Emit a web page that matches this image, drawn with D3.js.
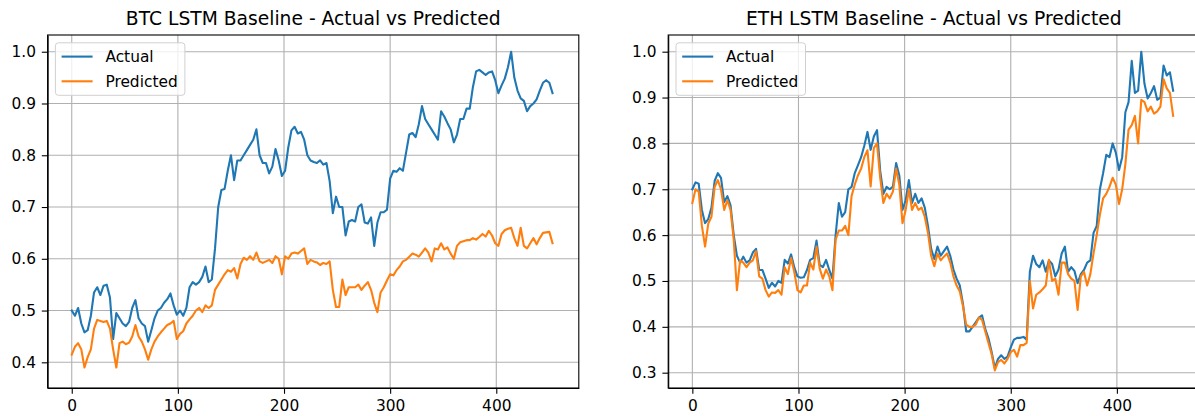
<!DOCTYPE html>
<html>
<head>
<meta charset="utf-8">
<script src="https://cdn.jsdelivr.net/npm/d3@7"></script>
<style>
  body { margin: 0; background: #fff; }
  svg { display: block; }
  text { font-family: "DejaVu Sans", sans-serif; }
</style>
</head>
<body>
<svg id="chart" width="1195" height="416"></svg>
<script>
// Every series is sampled once per 3 time steps (index 0, 3, 6, ...).
const STEP = 3;

const btcActual = [
  0.500, 0.490, 0.505, 0.475, 0.458, 0.462, 0.490, 0.535, 0.545, 0.530,
  0.548, 0.550, 0.525, 0.445, 0.495, 0.485, 0.475, 0.470, 0.478, 0.505,
  0.520, 0.485, 0.475, 0.470, 0.440, 0.462, 0.485, 0.500, 0.505, 0.515,
  0.522, 0.533, 0.510, 0.492, 0.500, 0.490, 0.505, 0.545, 0.555, 0.550,
  0.555, 0.565, 0.585, 0.555, 0.560, 0.620, 0.700, 0.733, 0.735, 0.770,
  0.800, 0.752, 0.790, 0.790, 0.800, 0.810, 0.820, 0.830, 0.850, 0.800,
  0.785, 0.785, 0.765, 0.778, 0.812, 0.790, 0.760, 0.770, 0.815, 0.848,
  0.855, 0.842, 0.845, 0.830, 0.800, 0.790, 0.787, 0.785, 0.790, 0.782,
  0.785, 0.750, 0.688, 0.720, 0.700, 0.700, 0.645, 0.672, 0.675, 0.672,
  0.700, 0.705, 0.670, 0.668, 0.680, 0.625, 0.670, 0.690, 0.690, 0.695,
  0.755, 0.770, 0.768, 0.775, 0.770, 0.805, 0.840, 0.843, 0.835, 0.860,
  0.895, 0.870, 0.860, 0.850, 0.840, 0.830, 0.885, 0.875, 0.862, 0.850,
  0.825, 0.840, 0.870, 0.870, 0.890, 0.890, 0.932, 0.962, 0.965, 0.960,
  0.955, 0.960, 0.962, 0.945, 0.920, 0.935, 0.948, 0.970, 1.000, 0.950,
  0.925, 0.910, 0.905, 0.885, 0.895, 0.900, 0.908, 0.925, 0.940, 0.945,
  0.940, 0.920
];

const btcPredicted = [
  0.415, 0.430, 0.437, 0.425, 0.390, 0.410, 0.425, 0.465, 0.482, 0.480,
  0.478, 0.480, 0.465, 0.425, 0.390, 0.437, 0.440, 0.435, 0.438, 0.450,
  0.472, 0.450, 0.440, 0.425, 0.405, 0.425, 0.440, 0.450, 0.458, 0.465,
  0.472, 0.475, 0.480, 0.445, 0.455, 0.460, 0.475, 0.483, 0.490, 0.500,
  0.505, 0.497, 0.510, 0.505, 0.510, 0.540, 0.550, 0.560, 0.570, 0.578,
  0.575, 0.582, 0.562, 0.590, 0.602, 0.598, 0.605, 0.598, 0.612, 0.595,
  0.592, 0.595, 0.598, 0.592, 0.605, 0.600, 0.570, 0.605, 0.600, 0.610,
  0.612, 0.610, 0.615, 0.620, 0.590, 0.598, 0.595, 0.593, 0.588, 0.592,
  0.590, 0.595, 0.540, 0.507, 0.507, 0.560, 0.530, 0.545, 0.545, 0.545,
  0.550, 0.540, 0.548, 0.555, 0.540, 0.515, 0.497, 0.535, 0.545, 0.558,
  0.570, 0.568, 0.578, 0.585, 0.595, 0.598, 0.604, 0.610, 0.608, 0.604,
  0.612, 0.620, 0.612, 0.595, 0.620, 0.618, 0.630, 0.618, 0.622, 0.610,
  0.600, 0.625, 0.632, 0.634, 0.636, 0.636, 0.640, 0.637, 0.642, 0.648,
  0.643, 0.654, 0.645, 0.630, 0.625, 0.648, 0.655, 0.658, 0.660, 0.640,
  0.625, 0.660, 0.625, 0.620, 0.630, 0.640, 0.628, 0.640, 0.650, 0.651,
  0.652, 0.630
];

const ethActual = [
  0.700, 0.715, 0.712, 0.655, 0.626, 0.635, 0.660, 0.718, 0.735, 0.725,
  0.672, 0.685, 0.665, 0.600, 0.555, 0.540, 0.553, 0.540, 0.545, 0.562,
  0.570, 0.524, 0.524, 0.505, 0.485, 0.496, 0.488, 0.500, 0.496, 0.546,
  0.538, 0.558, 0.530, 0.510, 0.507, 0.508, 0.524, 0.546, 0.550, 0.588,
  0.535, 0.530, 0.546, 0.524, 0.505, 0.600, 0.670, 0.640, 0.650, 0.700,
  0.705, 0.735, 0.752, 0.770, 0.795, 0.825, 0.786, 0.815, 0.829, 0.740,
  0.690, 0.705, 0.700, 0.706, 0.757, 0.730, 0.655, 0.676, 0.720, 0.670,
  0.690, 0.670, 0.680, 0.660, 0.620, 0.570, 0.548, 0.575, 0.555, 0.565,
  0.575, 0.555, 0.525, 0.505, 0.490, 0.450, 0.390, 0.390, 0.400, 0.410,
  0.420, 0.425, 0.395, 0.375, 0.345, 0.310, 0.330, 0.338, 0.330, 0.335,
  0.355, 0.372, 0.376, 0.376, 0.378, 0.372, 0.520, 0.555, 0.537, 0.530,
  0.545, 0.520, 0.545, 0.537, 0.510, 0.525, 0.560, 0.575, 0.520, 0.530,
  0.522, 0.495, 0.515, 0.524, 0.540, 0.545, 0.605, 0.620, 0.700, 0.735,
  0.775, 0.770, 0.800, 0.780, 0.742, 0.770, 0.868, 0.890, 0.980, 0.910,
  0.915, 1.000, 0.930, 0.898, 0.910, 0.925, 0.895, 0.900, 0.970, 0.948,
  0.955, 0.915
];

const ethPredicted = [
  0.670, 0.700, 0.695, 0.620, 0.575, 0.625, 0.640, 0.705, 0.720, 0.700,
  0.655, 0.676, 0.655, 0.590, 0.480, 0.545, 0.540, 0.530, 0.540, 0.545,
  0.565, 0.510, 0.505, 0.480, 0.466, 0.475, 0.474, 0.480, 0.470, 0.530,
  0.515, 0.550, 0.520, 0.480, 0.475, 0.490, 0.490, 0.540, 0.525, 0.575,
  0.527, 0.505, 0.525, 0.510, 0.480, 0.590, 0.610, 0.610, 0.620, 0.600,
  0.685, 0.710, 0.730, 0.745, 0.770, 0.785, 0.706, 0.790, 0.800, 0.725,
  0.670, 0.690, 0.680, 0.695, 0.745, 0.710, 0.626, 0.655, 0.700, 0.655,
  0.670, 0.655, 0.660, 0.640, 0.605, 0.555, 0.532, 0.560, 0.545, 0.553,
  0.560, 0.540, 0.510, 0.490, 0.477, 0.445, 0.405, 0.400, 0.400, 0.405,
  0.420, 0.415, 0.390, 0.365, 0.340, 0.305, 0.323, 0.328, 0.320, 0.330,
  0.345, 0.350, 0.335, 0.360, 0.360, 0.365, 0.500, 0.440, 0.470, 0.475,
  0.482, 0.490, 0.546, 0.500, 0.505, 0.470, 0.540, 0.540, 0.515, 0.505,
  0.500, 0.437, 0.510, 0.520, 0.490, 0.515, 0.560, 0.600, 0.645, 0.680,
  0.690, 0.705, 0.725, 0.710, 0.668, 0.700, 0.755, 0.830, 0.840, 0.860,
  0.800, 0.895, 0.890, 0.870, 0.880, 0.865, 0.870, 0.880, 0.940, 0.920,
  0.910, 0.860
];

const xTicks = [0, 100, 200, 300, 400];
const btcYTicks = [0.4, 0.5, 0.6, 0.7, 0.8, 0.9, 1.0];
const ethYTicks = [0.3, 0.4, 0.5, 0.6, 0.7, 0.8, 0.9, 1.0];
const seriesLabels = ["Actual", "Predicted"];
const seriesColors = ["#1f77b4", "#ff7f0e"];

const svg = d3.select("#chart");
const defs = svg.append("defs");

const AX_TOP = 35, AX_BOTTOM = 388, AX_WIDTH = 531.2;
const TICK_FONT = 15.4, LEGEND_FONT = 15.4, TITLE_FONT = 18.7;

function drawPanel(cfg) {
  const left = cfg.left;
  const x = d3.scaleLinear().domain([-22.75, 477.75]).range([left, left + AX_WIDTH]);
  const y = d3.scaleLinear().domain(cfg.yDomain).range([AX_BOTTOM, AX_TOP]);
  const g = svg.append("g");

  defs.append("clipPath").attr("id", "clip-" + cfg.id)
    .append("rect")
    .attr("x", left).attr("y", AX_TOP)
    .attr("width", AX_WIDTH).attr("height", AX_BOTTOM - AX_TOP);

  // grid
  const grid = g.append("g").attr("stroke", "#b0b0b0").attr("stroke-width", 1.1);
  grid.selectAll("line.vx").data(xTicks).join("line")
    .attr("x1", d => x(d)).attr("x2", d => x(d))
    .attr("y1", AX_TOP).attr("y2", AX_BOTTOM);
  grid.selectAll("line.hy").data(cfg.yTicks).join("line")
    .attr("x1", left).attr("x2", left + AX_WIDTH)
    .attr("y1", d => y(d)).attr("y2", d => y(d));

  // series
  const line = d3.line().x((d, i) => x(i * STEP)).y(d => y(d));
  [cfg.actual, cfg.predicted].forEach((s, k) => {
    g.append("path").datum(s)
      .attr("d", line)
      .attr("fill", "none")
      .attr("stroke", seriesColors[k])
      .attr("stroke-width", 2.1)
      .attr("stroke-linejoin", "round")
      .attr("stroke-linecap", "square")
      .attr("clip-path", `url(#clip-${cfg.id})`);
  });

  // frame
  g.append("rect")
    .attr("x", left).attr("y", AX_TOP)
    .attr("width", AX_WIDTH).attr("height", AX_BOTTOM - AX_TOP)
    .attr("fill", "none").attr("stroke", "#000").attr("stroke-width", 1.1);

  // axes
  const xAxis = d3.axisBottom(x).tickValues(xTicks)
    .tickSizeInner(5.8).tickSizeOuter(0).tickPadding(5.8)
    .tickFormat(d3.format("d"));
  const yAxis = d3.axisLeft(y).tickValues(cfg.yTicks)
    .tickSizeInner(5.8).tickSizeOuter(0).tickPadding(5.8)
    .tickFormat(d3.format(".1f"));
  const gx = g.append("g").attr("transform", `translate(0,${AX_BOTTOM})`).call(xAxis);
  const gy = g.append("g").attr("transform", `translate(${left},0)`).call(yAxis);
  [gx, gy].forEach(a => {
    a.attr("font-family", null).attr("font-size", null);
    a.select(".domain").attr("stroke", "#000").attr("stroke-width", 1.1);
    a.selectAll(".tick line").attr("stroke", "#000").attr("stroke-width", 1.1);
    a.selectAll(".tick text").attr("fill", "#000").style("font-size", TICK_FONT + "px");
  });

  // title
  g.append("text")
    .attr("x", left + AX_WIDTH / 2).attr("y", 25)
    .attr("text-anchor", "middle")
    .style("font-size", TITLE_FONT + "px")
    .attr("fill", "#000")
    .text(cfg.title);

  // legend
  const lg = g.append("g").attr("transform", `translate(${left + 7.8},${AX_TOP + 7.8})`);
  lg.append("rect")
    .attr("width", 129.5).attr("height", 52.5).attr("rx", 3)
    .attr("fill", "#fff").attr("fill-opacity", 0.8)
    .attr("stroke", "#d0d0d0").attr("stroke-width", 1);
  seriesLabels.forEach((label, k) => {
    const cy = 13.8 + k * 24.7;
    lg.append("line")
      .attr("x1", 6.2).attr("x2", 37.2).attr("y1", cy).attr("y2", cy)
      .attr("stroke", seriesColors[k]).attr("stroke-width", 2.1);
    lg.append("text")
      .attr("x", 50).attr("y", cy).attr("dy", "0.36em")
      .style("font-size", LEGEND_FONT + "px")
      .attr("fill", "#000")
      .text(label);
  });
}

drawPanel({
  id: "btc", left: 47.6, title: "BTC LSTM Baseline - Actual vs Predicted",
  yDomain: [0.3504, 1.0323], yTicks: btcYTicks,
  actual: btcActual, predicted: btcPredicted
});
drawPanel({
  id: "eth", left: 668.2, title: "ETH LSTM Baseline - Actual vs Predicted",
  yDomain: [0.2666, 1.0364], yTicks: ethYTicks,
  actual: ethActual, predicted: ethPredicted
});
</script>
</body>
</html>
